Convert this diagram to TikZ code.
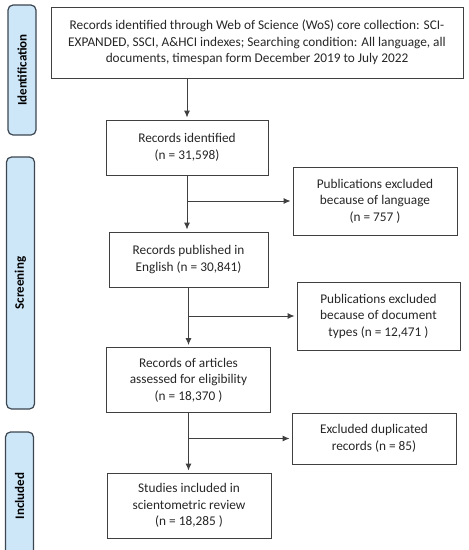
\documentclass[tikz,border=0pt]{standalone}
\usepackage{fontspec}
\setmainfont{Carlito}
\usepackage{xcolor}
\usetikzlibrary{arrows.meta}
\tikzset{>={Latex[length=7pt,width=6pt]}}
\definecolor{stagefill}{HTML}{CDE6F8}
\definecolor{stageline}{HTML}{3C4650}
\definecolor{boxline}{HTML}{404040}
\tikzstyle{record}=[draw=boxline,line width=0.9pt,align=center,inner sep=2pt,
  font=\fontsize{13.3}{16.5}\selectfont,text=black!85]
\tikzstyle{stage}=[draw=stageline,line width=1.2pt,fill=stagefill,rounded corners=5pt,
  rotate=90,minimum height=28pt,inner sep=0pt,font=\bfseries\fontsize{13}{15}\selectfont]
\tikzstyle{flow}=[->,line width=0.9pt,boxline,shorten >=2pt]

\begin{document}
\begin{tikzpicture}[x=1pt,y=-1pt]

  \useasboundingbox (0,0) rectangle (469,550);

  % stages
  \node[stage,minimum width=130pt] (ident) at (22,70) {Identification};
  \node[stage,minimum width=252pt] (screen) at (20.5,283) {Screening};
  \node[stage,minimum width=128pt] (incl) at (19.5,496) {Included};

  % main records
  \node[record,minimum width=412pt,minimum height=71pt] (wos) at (257,42.5)
    {Records identified through Web of Science (WoS) core collection: SCI-\\
     EXPANDED, SSCI, A\&HCI indexes; Searching condition: All language, all\\
     documents, timespan form December 2019 to July 2022};
  \node[record,minimum width=162pt,minimum height=55pt] (ident1) at (187,147.5)
    {Records identified\\(n = 31,598)};
  \node[record,minimum width=159pt,minimum height=55pt] (english) at (188.5,259.5)
    {Records published in\\English (n = 30,841)};
  \node[record,minimum width=164pt,minimum height=65pt] (articles) at (188.5,380)
    {Records of articles\\assessed for eligibility\\(n = 18,370 )};
  \node[record,minimum width=164pt,minimum height=65pt] (studies) at (189,505.5)
    {Studies included in\\scientometric review\\(n = 18,285 )};

  % excluded records
  \node[record,minimum width=164pt,minimum height=68pt] (language) at (375,201)
    {Publications excluded\\because of language\\(n = 757 )};
  \node[record,minimum width=163pt,minimum height=68pt] (doctypes) at (378.5,316)
    {Publications excluded\\because of document\\types (n = 12,471 )};
  \node[record,minimum width=164pt,minimum height=51pt] (dupl) at (374,438.5)
    {Excluded duplicated\\records (n = 85)};

  % arrows
  \draw[flow] (wos.south -| ident1.north) -- (ident1.north);
  \draw[flow] (ident1.south) -- (ident1.south |- english.north);
  \draw[flow] (english.south) -- (english.south |- articles.north);
  \draw[flow] (articles.south) -- (articles.south |- studies.north);
  \draw[flow] (language.west -| ident1.south) -- (language.west);
  \draw[flow] (doctypes.west -| english.south) -- (doctypes.west);
  \draw[flow] (dupl.west -| articles.south) -- (dupl.west);

\end{tikzpicture}
\end{document}
